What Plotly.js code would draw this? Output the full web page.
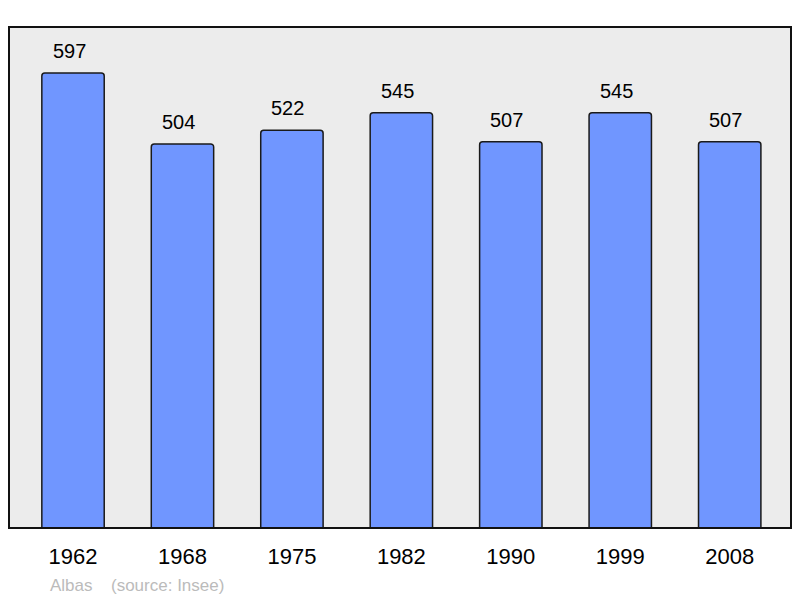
<!DOCTYPE html>
<html><head><meta charset="utf-8">
<script src="https://cdn.plot.ly/plotly-3.0.1.min.js"></script>
<style>html,body{margin:0;padding:0;background:#fff}#c{width:800px;height:598px}</style>
</head><body><div id="c"></div>
<script>
const years = ["1962","1968","1975","1982","1990","1999","2008"];
const population = [597,504,522,545,507,545,507];
const townName = "Albas";
const sourceText = "(source: Insee)";

const font = "Liberation Sans, Arial, sans-serif";
const valueLabels = years.map((y,i)=>({
  x: i, y: population[i], xref:'x', yref:'y', text: String(population[i]),
  showarrow:false, yanchor:'bottom', yshift:9, xshift:-4,
  font:{family:font,size:20,color:'#000'}
}));
const data = [{
  type:'bar', x: years, y: population, width:0.57,
  marker:{color:'#7096ff', line:{color:'#1a1a1a', width:1.5}, cornerradius:3},
  hoverinfo:'none'
}];
const layout = {
  width:800, height:598,
  margin:{l:9,r:9,t:27,b:70},
  paper_bgcolor:'#fff', plot_bgcolor:'#ececec',
  showlegend:false,
  xaxis:{type:'category', range:[-0.585,6.56], showgrid:false, zeroline:false, showline:false,
    ticks:'outside', ticklen:9, tickcolor:'rgba(0,0,0,0)',
    tickfont:{family:font,size:22,color:'#000'}},
  yaxis:{range:[0,657.5], showgrid:false, zeroline:false, showline:false, showticklabels:false, ticks:''},
  shapes:[{type:'rect', xref:'paper', yref:'paper', x0:0, x1:1, y0:0, y1:1,
    line:{color:'#111', width:2}, fillcolor:'rgba(0,0,0,0)', layer:'above'}],
  annotations: valueLabels.concat([
    {xref:'paper', yref:'paper', x:(48-9)/782, y:-(585-528)/501, xanchor:'left', yanchor:'middle',
     text:townName, showarrow:false, font:{family:font,size:17,color:'#bbbbbb'}},
    {xref:'paper', yref:'paper', x:(109-9)/782, y:-(585-528)/501, xanchor:'left', yanchor:'middle',
     text:sourceText, showarrow:false, font:{family:font,size:17,color:'#bbbbbb'}}
  ])
};
Plotly.newPlot('c', data, layout, {staticPlot:true});
</script></body></html>
